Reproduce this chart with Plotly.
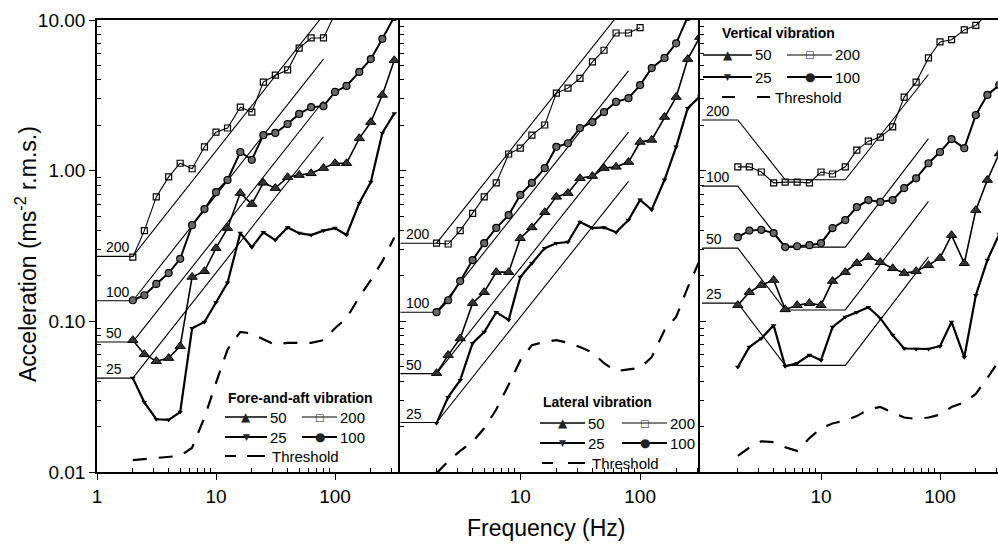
import math
import plotly.graph_objects as go

# ---------------- data ----------------
freq = [2, 2.5, 3.15, 4, 5, 6.3, 8, 10, 12.5, 16, 20, 25, 31.5, 40, 50, 63, 80,
        100, 125, 160, 200, 250, 315]

# Fore-and-aft
fa_200 = [0.267, 0.40, 0.67, 0.91, 1.12, 1.03, 1.44, 1.80, 1.92, 2.64, 2.45, 3.87,
          4.3, 4.66, 6.5, 7.6, 7.6, 11.0]
fa_100 = [0.138, 0.149, 0.177, 0.209, 0.26, 0.435, 0.556, 0.72, 0.867, 1.33, 1.18,
          1.72, 1.78, 2.04, 2.38, 2.64, 2.68, 3.33, 3.65, 4.52, 5.5, 7.5, 10.5]
fa_50 = [0.075, 0.0605, 0.0544, 0.057, 0.0684, 0.197, 0.215, 0.306, 0.416, 0.71, 0.6,
         0.83, 0.766, 0.905, 0.935, 0.96, 1.04, 1.12, 1.12, 1.64, 2.1, 3.18, 5.4]
fa_25 = [0.042, 0.029, 0.0224, 0.0222, 0.025, 0.09, 0.099, 0.134, 0.18, 0.385, 0.31,
         0.39, 0.346, 0.42, 0.385, 0.374, 0.4, 0.416, 0.374, 0.61, 0.84, 1.78, 2.4]
fa_thr = [0.012, 0.0122, 0.0125, 0.0127, 0.0128, 0.0145, 0.023, 0.039, 0.065, 0.085,
          0.083, 0.076, 0.07, 0.072, 0.072, 0.072, 0.075, 0.09, 0.105, 0.145, 0.188,
          0.25, 0.36]

# Lateral
lat_200 = [0.33, 0.326, 0.40, 0.52, 0.67, 0.83, 1.29, 1.41, 1.72, 2.01, 3.27, 3.53,
           4.1, 5.27, 6.3, 8.2, 8.2, 8.9]
lat_100 = [0.115, 0.138, 0.185, 0.255, 0.33, 0.417, 0.507, 0.69, 0.83, 1.04, 1.44,
           1.52, 1.92, 2.1, 2.45, 2.86, 3.03, 3.7, 4.8, 5.6, 7.0, 10.5]
lat_50 = [0.0453, 0.0597, 0.077, 0.132, 0.156, 0.212, 0.212, 0.356, 0.42, 0.53, 0.67,
          0.71, 0.89, 0.92, 1.04, 1.06, 1.14, 1.55, 1.6, 2.27, 3.08, 5.5, 7.7]
lat_25 = [0.0211, 0.0314, 0.0407, 0.0716, 0.0848, 0.115, 0.102, 0.197, 0.243, 0.306,
          0.33, 0.336, 0.456, 0.416, 0.42, 0.39, 0.47, 0.64, 0.55, 0.87, 1.44, 2.6, 3.1]
lat_thr = [0.0098, 0.0118, 0.0138, 0.0159, 0.0195, 0.026, 0.038, 0.055, 0.0695, 0.073,
           0.075, 0.072, 0.0675, 0.062, 0.0527, 0.0467, 0.048, 0.049, 0.0578, 0.0875,
           0.107, 0.168, 0.255]

# Vertical
v_200 = [1.06, 1.06, 0.98, 0.83, 0.84, 0.84, 0.83, 0.98, 0.95, 1.06, 1.37, 1.57, 1.67,
         1.95, 3.08, 3.87, 5.6, 7.15, 7.4, 8.6, 9.2, 11.0]
v_100 = [0.362, 0.40, 0.405, 0.385, 0.311, 0.315, 0.32, 0.33, 0.416, 0.47, 0.573, 0.638,
         0.62, 0.638, 0.766, 0.89, 1.12, 1.33, 1.62, 1.41, 2.34, 3.18, 3.7]
v_50 = [0.128, 0.156, 0.174, 0.188, 0.12, 0.128, 0.132, 0.128, 0.185, 0.212, 0.243,
        0.267, 0.247, 0.225, 0.209, 0.215, 0.236, 0.263, 0.373, 0.243, 0.547, 0.867, 1.3]
v_25 = [0.0497, 0.0675, 0.077, 0.094, 0.0503, 0.0527, 0.0597, 0.0552, 0.0916, 0.107,
        0.115, 0.124, 0.105, 0.081, 0.066, 0.0655, 0.0655, 0.0684, 0.099, 0.0578, 0.149,
        0.255, 0.38]
v_thr = [0.0128, 0.0145, 0.016, 0.0158, 0.0146, 0.0138, 0.0168, 0.0195, 0.021, 0.022,
         0.0235, 0.026, 0.027, 0.025, 0.023, 0.0225, 0.023, 0.024, 0.027, 0.029, 0.033,
         0.042, 0.055]

# Reference (equivalent-comfort) lines: breakpoint frequencies and accelerations
ref_f_h = [1, 2, 80]
fa_ref = {'200': [0.27, 0.27, 10.8], '100': [0.137, 0.137, 5.5],
          '50': [0.073, 0.073, 2.9], '25': [0.042, 0.042, 1.68]}
lat_ref = {'200': [0.33, 0.33, 13.2], '100': [0.115, 0.115, 4.6],
           '50': [0.045, 0.045, 1.8], '25': [0.0213, 0.0213, 0.85]}
ref_f_v = [1, 2, 5, 16, 80]
v_ref = {'200': [2.17, 2.17, 0.87, 0.87, 4.35], '100': [0.79, 0.79, 0.311, 0.311, 1.63],
         '50': [0.306, 0.306, 0.119, 0.119, 0.625], '25': [0.132, 0.132, 0.051, 0.051, 0.268]}

levels = ['200', '100', '50', '25']
panel_titles = ['Fore-and-aft vibration', 'Lateral vibration', 'Vertical vibration']
y_ticks = [0.01, 0.1, 1, 10]
y_ticktext = ['0.01', '0.10', '1.00', '10.00']

# ---------------- layout geometry ----------------
W, H = 998, 545
ML, MR, MT, MB = 97, 0, 20, 73
PW = W - ML - MR
PH = H - MT - MB
FONT = 'Liberation Sans, Arial, sans-serif'


def pxx(x):
    return (x - ML) / PW


def pyy(y):
    return 1 - (y - MT) / PH


domains = [[0, pxx(400)], [pxx(400), pxx(700)], [pxx(700), 1.0]]
xranges = [[0, 303 / 119], [-0.004, 2.5], [-2 / 119, 296 / 119]]

fig = go.Figure()

panels = [
    dict(s200=fa_200, s100=fa_100, s50=fa_50, s25=fa_25, thr=fa_thr, ref=fa_ref, rf=ref_f_h),
    dict(s200=lat_200, s100=lat_100, s50=lat_50, s25=lat_25, thr=lat_thr, ref=lat_ref, rf=ref_f_h),
    dict(s200=v_200, s100=v_100, s50=v_50, s25=v_25, thr=v_thr, ref=v_ref, rf=ref_f_v),
]

styles = {
    '50': dict(mode='lines+markers', line=dict(color='black', width=1.6),
               marker=dict(symbol='triangle-up', size=9, color='#333333',
                           line=dict(color='black', width=1))),
    '200': dict(mode='lines+markers', line=dict(color='black', width=1.1),
                marker=dict(symbol='square-open', size=6, color='black',
                            line=dict(width=1.2))),
    '25': dict(mode='lines+markers', line=dict(color='black', width=2.2),
               marker=dict(symbol='triangle-down', size=5, color='black')),
    '100': dict(mode='lines+markers', line=dict(color='black', width=2),
                marker=dict(symbol='circle', size=7, color='#6a6a6a',
                            line=dict(color='black', width=1.2))),
}

for i, p in enumerate(panels):
    xa = 'x' if i == 0 else f'x{i+1}'
    ya = 'y' if i == 0 else f'y{i+1}'
    for lv in levels:
        fig.add_trace(go.Scatter(x=p['rf'], y=p['ref'][lv], mode='lines',
                                 line=dict(color='black', width=1.1),
                                 xaxis=xa, yaxis=ya, showlegend=False, hoverinfo='skip'))
    fig.add_trace(go.Scatter(x=freq[:len(p['thr'])], y=p['thr'], mode='lines',
                             line=dict(color='black', width=2.2, dash='14px,12px'),
                             xaxis=xa, yaxis=ya, showlegend=False))
    for key in ['200', '100', '50', '25']:
        vals = p['s' + key]
        fig.add_trace(go.Scatter(x=freq[:len(vals)], y=vals, xaxis=xa, yaxis=ya,
                                 showlegend=False, cliponaxis=True, **styles[key]))

minor_x = [2, 3, 4, 5, 6, 7, 8, 9, 20, 30, 40, 50, 60, 70, 80, 90, 200, 300]
minor_y = [0.02, 0.03, 0.04, 0.05, 0.06, 0.07, 0.08, 0.09, 0.2, 0.3, 0.4, 0.5, 0.6,
           0.7, 0.8, 0.9, 2, 3, 4, 5, 6, 7, 8, 9]

layout = dict(
    width=W, height=H, margin=dict(l=ML, r=MR, t=MT, b=MB),
    paper_bgcolor='white', plot_bgcolor='white', showlegend=False,
    font=dict(family=FONT, color='black'),
)
for i in range(3):
    xk = 'xaxis' if i == 0 else f'xaxis{i+1}'
    yk = 'yaxis' if i == 0 else f'yaxis{i+1}'
    ya = 'y' if i == 0 else f'y{i+1}'
    xa = 'x' if i == 0 else f'x{i+1}'
    layout[xk] = dict(
        type='log', domain=domains[i], range=xranges[i], anchor=ya,
        showgrid=False, zeroline=False, showline=True, linecolor='black', linewidth=1.6,
        mirror=True, ticks='outside', ticklen=6, tickwidth=1.3, tickcolor='black',
        tickvals=[1, 10, 100] if i == 0 else [10, 100],
        ticktext=['1', '10', '100'] if i == 0 else ['10', '100'],
        tickfont=dict(size=19, family=FONT, color='black'),
        minor=dict(tickvals=minor_x, ticks='inside', ticklen=4, tickwidth=1,
                   tickcolor='black'),
    )
    layout[yk] = dict(
        type='log', domain=[0, 1], range=[-2, 1], anchor=xa,
        showgrid=False, zeroline=False, showline=True, linecolor='black', linewidth=1.6,
        mirror=False, ticks=('outside' if i == 0 else 'inside'), ticklen=6, tickwidth=1.3,
        tickcolor='black', tickvals=y_ticks, ticktext=y_ticktext,
        showticklabels=(i == 0),
        tickfont=dict(size=19, family=FONT, color='black'),
        minor=dict(tickvals=minor_y, ticks='inside', ticklen=4, tickwidth=1,
                   tickcolor='black'),
    )
fig.update_layout(**layout)

annotations = []
shapes = []

# reference line labels
label_x = [(105 - 97) / 119, (405 - 400) / 120, (705 - 702) / 119]
for i, p in enumerate(panels):
    xa = 'x' if i == 0 else f'x{i+1}'
    ya = 'y' if i == 0 else f'y{i+1}'
    for lv in levels:
        annotations.append(dict(x=label_x[i], y=math.log10(p['ref'][lv][0]), xref=xa, yref=ya,
                                text=lv, showarrow=False, xanchor='left', yanchor='bottom',
                                font=dict(size=14, family=FONT, color='black'),
                                borderpad=0))

# legends (drawn as decorations)
legend_pos = [
    dict(tx=226, ty=398, r=[417, 437, 456], c1=(225, 267), c2=(302, 337), dash=(225, 236, 247, 265), thx=270),
    dict(tx=541, ty=402, r=[423, 443, 463], c1=(540, 585), c2=(622, 667), dash=(542, 553, 568, 585), thx=590),
    dict(tx=720, ty=33, r=[55, 77, 97], c1=(703, 752), c2=(787, 832), dash=(722, 735, 757, 770), thx=773),
]
entries = [
    (0, 0, '50', '▲', 1.6, 12), (0, 1, '200', '□', 1.1, 10),
    (1, 0, '25', '▼', 2.2, 9), (1, 1, '100', '●', 2.0, 12),
]
for i, lg in enumerate(legend_pos):
    annotations.append(dict(x=pxx(lg['tx']), y=pyy(lg['ty']), xref='paper', yref='paper',
                            text='<b>' + panel_titles[i] + '</b>', showarrow=False,
                            xanchor='left', yanchor='middle',
                            font=dict(size=14, family=FONT, color='black')))
    for row, col, lab, sym, lw, fs in entries:
        x0, x1 = lg['c1'] if col == 0 else lg['c2']
        yy = lg['r'][row]
        shapes.append(dict(type='line', xref='paper', yref='paper', x0=pxx(x0), x1=pxx(x1),
                           y0=pyy(yy), y1=pyy(yy), line=dict(color='black', width=lw)))
        annotations.append(dict(x=pxx((x0 + x1) / 2), y=pyy(yy), xref='paper', yref='paper',
                                text=sym, showarrow=False, xanchor='center', yanchor='middle',
                                font=dict(size=fs, family='DejaVu Sans', color='#222'),
                                borderpad=0))
        annotations.append(dict(x=pxx(x1 + 1), y=pyy(yy), xref='paper', yref='paper',
                                text=lab, showarrow=False, xanchor='left', yanchor='middle',
                                font=dict(size=15, family=FONT, color='black')))
    d = lg['dash']
    yy = lg['r'][2]
    for a, b in [(d[0], d[1]), (d[2], d[3])]:
        shapes.append(dict(type='line', xref='paper', yref='paper', x0=pxx(a), x1=pxx(b),
                           y0=pyy(yy), y1=pyy(yy), line=dict(color='black', width=2)))
    annotations.append(dict(x=pxx(lg['thx']), y=pyy(yy), xref='paper', yref='paper',
                            text='Threshold', showarrow=False, xanchor='left', yanchor='middle',
                            font=dict(size=15, family=FONT, color='black')))

# axis titles
annotations.append(dict(x=pxx(26), y=pyy(254), xref='paper', yref='paper',
                        text='Acceleration (ms<sup>-2</sup> r.m.s.)', textangle=-90,
                        showarrow=False, xanchor='center', yanchor='middle',
                        font=dict(size=23, family=FONT, color='black')))
annotations.append(dict(x=pxx(546), y=pyy(528), xref='paper', yref='paper',
                        text='Frequency (Hz)', showarrow=False, xanchor='center',
                        yanchor='middle', font=dict(size=23, family=FONT, color='black')))

fig.update_layout(annotations=annotations, shapes=shapes)
fig.write_html('out.html')
